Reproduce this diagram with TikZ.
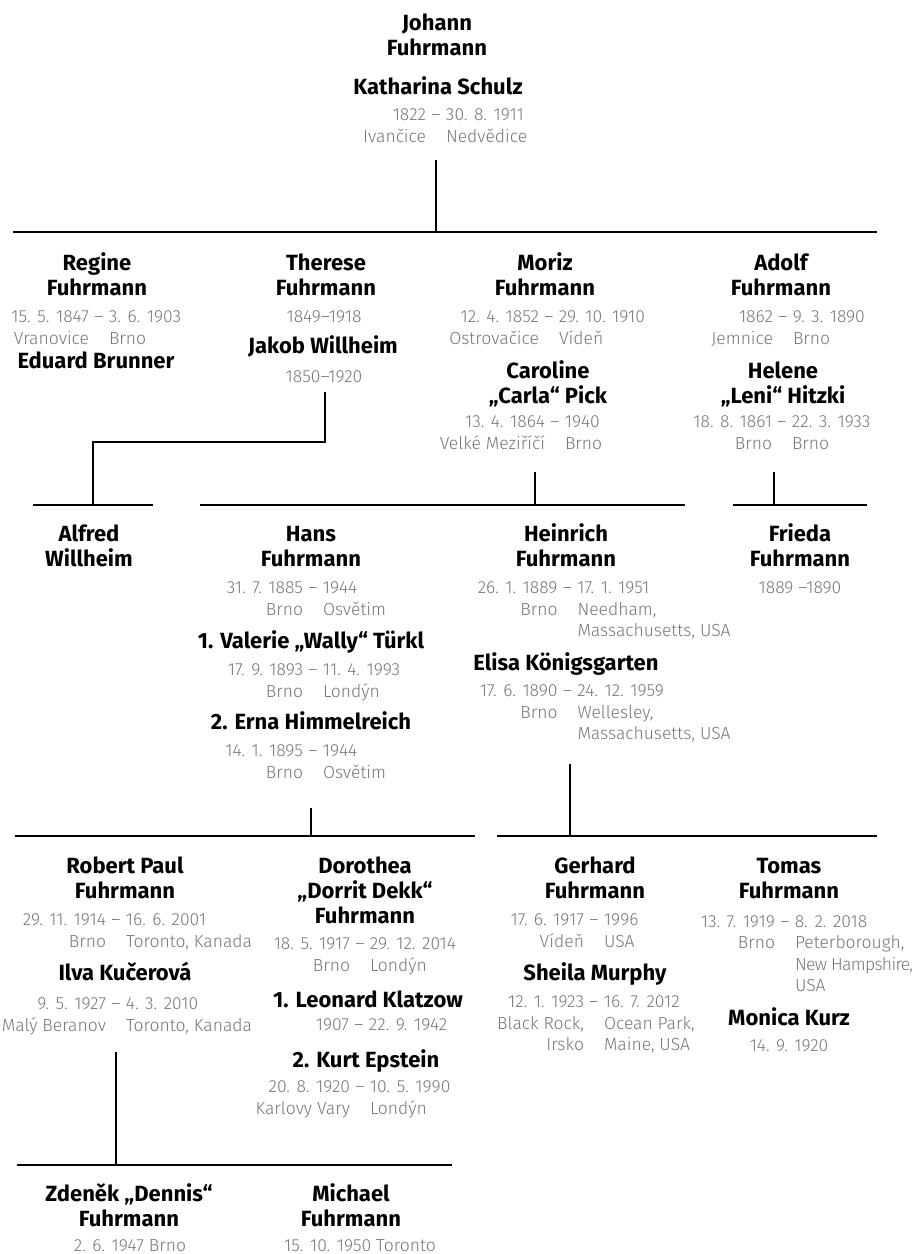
\documentclass[tikz,border=0pt]{standalone}
\usepackage{fontspec}
\setmainfont{Fira Sans}
\newfontfamily\lightfont{Fira Sans Light}
\usepackage{tikz}
\usetikzlibrary{calc}
\definecolor{dategray}{RGB}{118,118,118}

% birth | death, places under them, dash in the middle
\newcommand{\lifespan}[4]{%
  \llap{\begin{tabular}[t]{@{}r@{}}#1\\#3\end{tabular}\hspace{10pt}}%
  \makebox[0pt]{–}%
  \rlap{\hspace{10pt}\begin{tabular}[t]{@{}l@{}}#2\\#4\end{tabular}}}

\begin{document}
\begin{tikzpicture}[x=1pt, y=-1pt,
    person/.style={font=\fontsize{22}{25}\selectfont\bfseries, align=center, anchor=base, inner sep=0pt},
    life/.style={font=\lightfont\fontsize{17.5}{21.5}\selectfont, text=dategray, anchor=base, inner sep=0pt},
    bar/.style={line width=2pt}]
                \useasboundingbox (0,0) rectangle (920,1254);

                % Generation 1 (base of a name = its last line)
                \node[person] (johann) at (437,55) {Johann\\Fuhrmann};
                \node[person] (katharina) at (438,94) {Katharina Schulz};
                \node[life] (katharinaL) at (436,120.5) {\lifespan{1822}{30. 8. 1911}{Ivančice}{Nedvědice}};

                % Generation 2
                \node[person] (regine) at (97,295) {Regine\\Fuhrmann};
                \node[life] (regineL) at (99,322.5) {\lifespan{15. 5. 1847}{3. 6. 1903}{Vranovice}{Brno}};
                \node[person] (eduard) at (96,368) {Eduard Brunner};

                \node[person] (therese) at (326,295) {Therese\\Fuhrmann};
                \node[life] (thereseL) at (324,322.5) {1849–1918};
                \node[person] (jakob) at (323,353) {Jakob Willheim};
                \node[life] (jakobL) at (324,382.5) {1850–1920};

                \node[person] (moriz) at (545,295) {Moriz\\Fuhrmann};
                \node[life] (morizL) at (549,322.5) {\lifespan{12. 4. 1852}{29. 10. 1910}{Ostrovačice}{Vídeň}};
                \node[person] (caroline) at (548,403) {Caroline\\„Carla“ Pick};
                \node[life] (carolineL) at (555,427.5) {\lifespan{13. 4. 1864}{1940}{Velké Meziříčí}{Brno}};

                \node[person] (adolf) at (781,295) {Adolf\\Fuhrmann};
                \node[life] (adolfL) at (783,322.5) {\lifespan{1862}{9. 3. 1890}{Jemnice}{Brno}};
                \node[person] (helene) at (783,403) {Helene\\„Leni“ Hitzki};
                \node[life] (heleneL) at (782,427.5) {\lifespan{18. 8. 1861}{22. 3. 1933}{Brno}{Brno}};

                % Generation 3
                \node[person] (alfred) at (89,566) {Alfred\\Willheim};

                \node[person] (hans) at (311,566) {Hans\\Fuhrmann};
                \node[life] (hansL) at (313,593.5) {\lifespan{31. 7. 1885}{1944}{Brno}{Osvětim}};
                \node[person] (valerie) at (311,648) {1. Valerie „Wally“ Türkl};
                \node[life] (valerieL) at (313,675.5) {\lifespan{17. 9. 1893}{11. 4. 1993}{Brno}{Londýn}};
                \node[person] (erna) at (311,729) {2. Erna Himmelreich};
                \node[life] (ernaL) at (313,756.5) {\lifespan{14. 1. 1895}{1944}{Brno}{Osvětim}};

                \node[person] (heinrich) at (566,566) {Heinrich\\Fuhrmann};
                \node[life] (heinrichL) at (567.5,593.5) {\lifespan{26. 1. 1889}{17. 1. 1951}{Brno}{Needham,\\Massachusetts, USA}};
                \node[person] (elisa) at (566,670) {Elisa Königsgarten};
                \node[life] (elisaL) at (567.5,696.5) {\lifespan{17. 6. 1890}{24. 12. 1959}{Brno}{Wellesley,\\Massachusetts, USA}};

                \node[person] (frieda) at (800,566) {Frieda\\Fuhrmann};
                \node[life] (friedaL) at (800,593.5) {1889 –1890};

                % Generation 4
                \node[person] (robert) at (125,898) {Robert Paul\\Fuhrmann};
                \node[life] (robertL) at (116,925.5) {\lifespan{29. 11. 1914}{16. 6. 2001}{Brno}{Toronto, Kanada}};
                \node[person] (ilva) at (125,980) {Ilva Kučerová};
                \node[life] (ilvaL) at (116,1009.5) {\lifespan{9. 5. 1927}{4. 3. 2010}{Malý Beranov}{Toronto, Kanada}};

                \node[person] (dorothea) at (365,923) {Dorothea\\„Dorrit Dekk“\\Fuhrmann};
                \node[life] (dorotheaL) at (360,949.5) {\lifespan{18. 5. 1917}{29. 12. 2014}{Brno}{Londýn}};
                \node[person] (leonard) at (368,1007) {1. Leonard Klatzow};
                \node[life] (leonardL) at (359,1030.5) {\lifespan{1907}{22. 9. 1942}{}{}};
                \node[person] (kurt) at (366,1067) {2. Kurt Epstein};
                \node[life] (kurtL) at (360,1092.5) {\lifespan{20. 8. 1920}{10. 5. 1990}{Karlovy Vary}{Londýn}};

                \node[person] (gerhard) at (595,898) {Gerhard\\Fuhrmann};
                \node[life] (gerhardL) at (594,925.5) {\lifespan{17. 6. 1917}{1996}{Vídeň}{USA}};
                \node[person] (sheila) at (595,980) {Sheila Murphy};
                \node[life] (sheilaL) at (594,1007.5) {\lifespan{12. 1. 1923}{16. 7. 2012}{Black Rock,\\Irsko}{Ocean Park,\\Maine, USA}};

                \node[person] (tomas) at (789,898) {Tomas\\Fuhrmann};
                \node[life] (tomasL) at (785,927) {\lifespan{13. 7. 1919}{8. 2. 2018}{Brno}{Peterborough,\\{\addfontfeature{LetterSpace=-4}New Hampshire,}\\USA}};
                \node[person] (monica) at (789,1025) {Monica Kurz};
                \node[life] (monicaL) at (789,1051.5) {14. 9. 1920};

                % Generation 5
                \node[person] (zdenek) at (129,1226) {Zdeněk „Dennis“\\Fuhrmann};
                \node[life] (zdenekL) at (130,1251) {2. 6. 1947 Brno};
                \node[person] (michael) at (351,1226) {Michael\\Fuhrmann};
                \node[life] (michaelL) at (360,1251) {15. 10. 1950 Toronto};

                % Junctions
                \coordinate (johannDown) at (436,160);
                \coordinate (row2Mid) at (436,232);
                \coordinate (row2L) at (13,232);
                \coordinate (row2R) at (877,232);
                \coordinate (jakobDown) at (325,392);
                \coordinate (jakobBend) at (325,442);
                \coordinate (alfredBend) at (93,442);
                \coordinate (alfredMid) at (93,505);
                \coordinate (alfredL) at (33,505);
                \coordinate (alfredR) at (153,505);
                \coordinate (carolineDown) at (535,472);
                \coordinate (morizMid) at (535,505);
                \coordinate (morizL) at (200,505);
                \coordinate (morizR) at (685,505);
                \coordinate (heleneDown) at (774,472);
                \coordinate (adolfMid) at (774,505);
                \coordinate (adolfL) at (733,505);
                \coordinate (adolfR) at (867,505);
                \coordinate (ernaDown) at (311,808);
                \coordinate (hansMid) at (311,836);
                \coordinate (hansBarL) at (15,836);
                \coordinate (hansBarR) at (475,836);
                \coordinate (elisaDown) at (570,764);
                \coordinate (heinrichMid) at (570,836);
                \coordinate (heinrichBarL) at (497,836);
                \coordinate (heinrichBarR) at (877,836);
                \coordinate (ilvaDown) at (116,1052);
                \coordinate (robertMid) at (116,1165);
                \coordinate (robertBarL) at (17,1165);
                \coordinate (robertBarR) at (452,1165);

                % Lines
                \draw[bar] (johannDown) -- (row2Mid);
                \draw[bar] (row2L) -- (row2R);
                \draw[bar] (jakobDown) -- (jakobBend) -- (alfredBend) -- (alfredMid);
                \draw[bar] (alfredL) -- (alfredR);
                \draw[bar] (carolineDown) -- (morizMid);
                \draw[bar] (morizL) -- (morizR);
                \draw[bar] (heleneDown) -- (adolfMid);
                \draw[bar] (adolfL) -- (adolfR);
                \draw[bar] (ernaDown) -- (hansMid);
                \draw[bar] (hansBarL) -- (hansBarR);
                \draw[bar] (elisaDown) -- (heinrichMid);
                \draw[bar] (heinrichBarL) -- (heinrichBarR);
                \draw[bar] (ilvaDown) -- (robertMid);
                \draw[bar] (robertBarL) -- (robertBarR);
\end{tikzpicture}
\end{document}
